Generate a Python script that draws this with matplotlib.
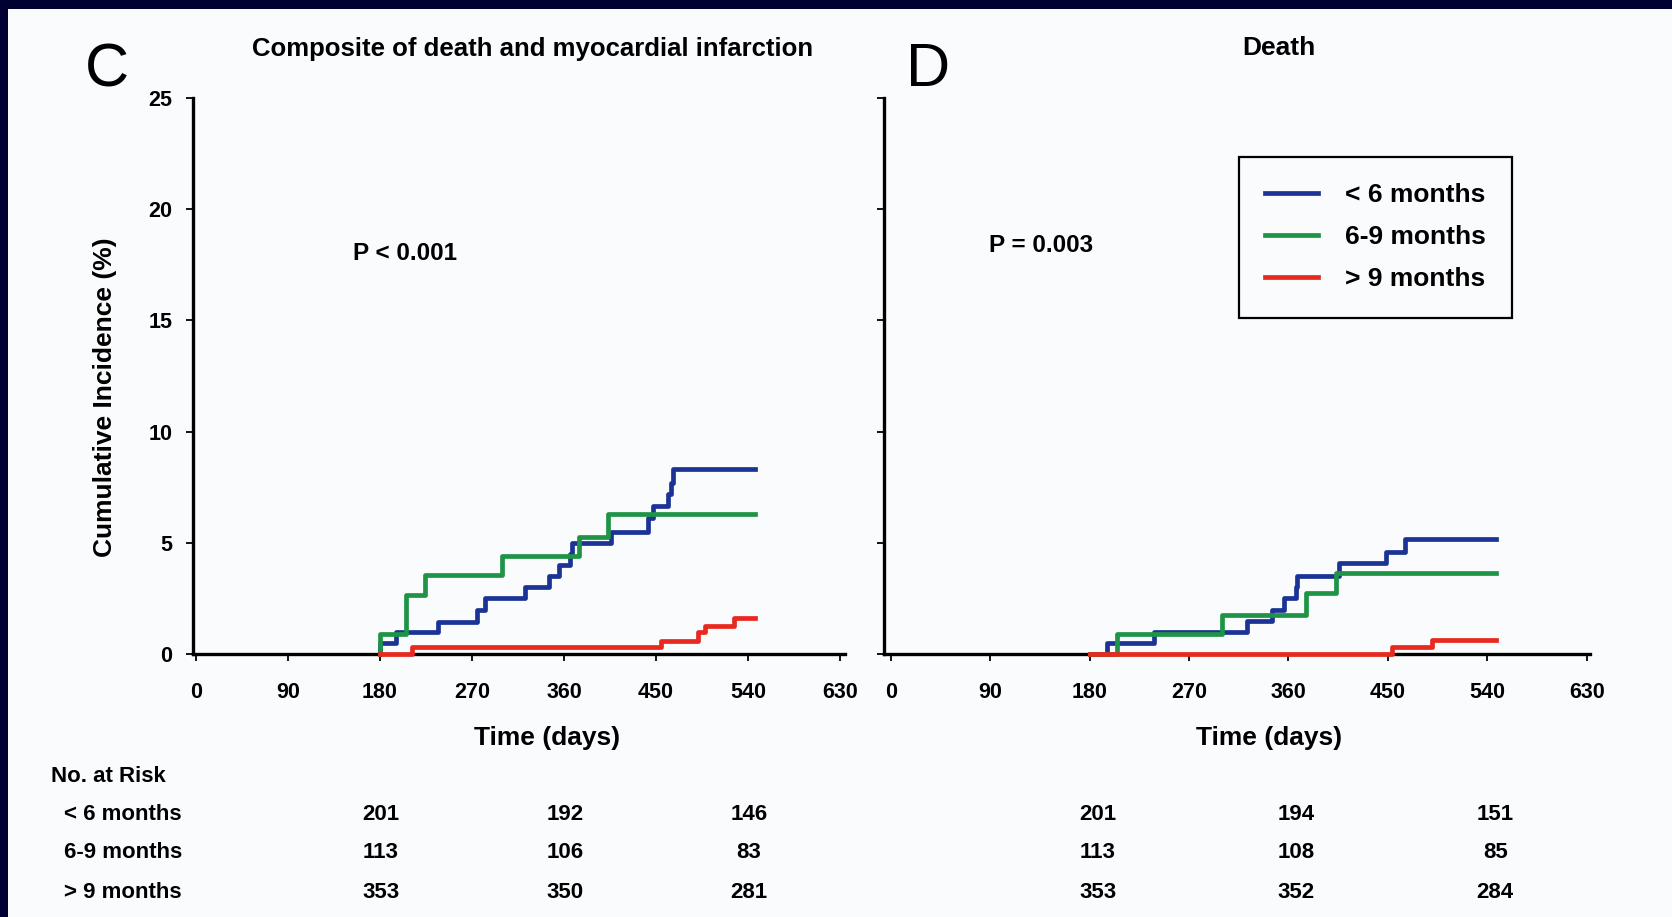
import matplotlib
matplotlib.use('Agg')
import matplotlib.pyplot as plt
import matplotlib.transforms as mtransforms
from matplotlib.patches import Rectangle

plt.rcParams['font.family'] = ['Liberation Sans', 'DejaVu Sans']

# group labels and colours
groups = ['< 6 months', '6-9 months', '> 9 months']
colors = ['#1c3396', '#1f9447', '#e8291f']

# panel C: composite of death and MI (days, cumulative %)
c_blue_t = [180, 180, 196, 237, 275, 283, 322, 345, 355, 366, 368, 406, 442, 447, 462, 465, 467, 547]
c_blue_y = [0, 0.5, 1.0, 1.45, 2.0, 2.5, 3.0, 3.5, 4.0, 4.5, 5.0, 5.5, 6.1, 6.65, 7.2, 7.7, 8.3, 8.3]
c_green_t = [180, 180, 205, 224, 299, 375, 403, 547]
c_green_y = [0, 0.9, 2.67, 3.57, 4.42, 5.27, 6.29, 6.29]
c_red_t = [180, 211, 455, 491, 498, 526, 547]
c_red_y = [0, 0.3, 0.6, 1.0, 1.25, 1.6, 1.6]

# panel D: death
d_blue_t = [180, 196, 238, 323, 345, 356, 367, 368, 406, 448, 466, 548]
d_blue_y = [0, 0.5, 1.0, 1.5, 2.0, 2.5, 3.0, 3.5, 4.1, 4.6, 5.15, 5.15]
d_green_t = [180, 205, 300, 376, 403, 548]
d_green_y = [0, 0.88, 1.75, 2.73, 3.66, 3.66]
d_red_t = [180, 454, 490, 548]
d_red_y = [0, 0.33, 0.63, 0.63]

xticks = [0, 90, 180, 270, 360, 450, 540, 630]
yticks = [0, 5, 10, 15, 20, 25]

# numbers at risk at 180 / 360 / 540 days
risk_days = [180, 360, 540]
c_risk = [[201, 192, 146], [113, 106, 83], [353, 350, 281]]
d_risk = [[201, 194, 151], [113, 108, 85], [353, 352, 284]]


fig = plt.figure(figsize=(16.72, 9.17), dpi=100, facecolor='#fafbfd')
# dark frame at top and left
navy = '#000033'
fig.add_artist(Rectangle((0, 1 - 9 / 917), 1, 9 / 917, transform=fig.transFigure,
                         facecolor=navy, edgecolor='none', zorder=-10))
fig.add_artist(Rectangle((0, 0), 8 / 1672, 1, transform=fig.transFigure,
                         facecolor=navy, edgecolor='none', zorder=-10))

axC = fig.add_axes([193 / 1672, 263 / 917, 652 / 1672, 556 / 917])
axD = fig.add_axes([884 / 1672, 263 / 917, 706 / 1672, 556 / 917])


def style_axis(ax, xmin, xmax, ylabels):
    ax.set_facecolor('none')
    ax.set_xlim(xmin, xmax)
    ax.set_ylim(0, 25)
    for s in ['top', 'right']:
        ax.spines[s].set_visible(False)
    for s in ['left', 'bottom']:
        ax.spines[s].set_linewidth(2.4)
    ax.set_xticks(xticks)
    ax.set_yticks(yticks)
    ax.tick_params(axis='both', direction='out', length=5, width=1.3, labelsize=15.5)
    ax.tick_params(axis='x', pad=15)
    ax.tick_params(axis='y', pad=10)
    for lab in ax.get_xticklabels() + ax.get_yticklabels():
        lab.set_fontweight('bold')
    if not ylabels:
        ax.set_yticklabels([])


def draw_curves(ax, series):
    for (t, y), col, name in zip(series, colors, groups):
        ax.step(t, y, where='post', color=col, lw=3.4, label=name, zorder=3, clip_on=False)


style_axis(axC, -3, 635, True)
style_axis(axD, -6, 633, False)

draw_curves(axC, [(c_blue_t, c_blue_y), (c_green_t, c_green_y), (c_red_t, c_red_y)])
draw_curves(axD, [(d_blue_t, d_blue_y), (d_green_t, d_green_y), (d_red_t, d_red_y)])

# titles and panel letters
fig.text(533 / 1672, 1 - 49 / 917, 'Composite of death and myocardial infarction', ha='center', va='center',
         fontsize=18.5, fontweight='bold')
fig.text(1279 / 1672, 1 - 48 / 917, 'Death', ha='center', va='center', fontsize=19, fontweight='bold')
fig.text(107 / 1672, 1 - 71 / 917, 'C', ha='center', va='center', fontsize=44)
fig.text(928 / 1672, 1 - 71 / 917, 'D', ha='center', va='center', fontsize=44)

fig.text(105 / 1672, 1 - 397 / 917, 'Cumulative Incidence (%)', rotation=90, ha='center', va='center',
         fontsize=19, fontweight='bold')
fig.text(547 / 1672, 1 - 738 / 917, 'Time (days)', ha='center', va='center', fontsize=19, fontweight='bold')
fig.text(1269 / 1672, 1 - 738 / 917, 'Time (days)', ha='center', va='center', fontsize=19, fontweight='bold')

fig.text(405 / 1672, 1 - 253 / 917, 'P < 0.001', ha='center', va='center', fontsize=17.5, fontweight='bold')
fig.text(1041 / 1672, 1 - 246 / 917, 'P = 0.003', ha='center', va='center', fontsize=17.5, fontweight='bold')

leg = axD.legend(loc='upper left', bbox_to_anchor=(1239 / 1672, 1 - 157 / 917), bbox_transform=fig.transFigure,
                 borderaxespad=0, fancybox=False, handlelength=2.0, handletextpad=1.0, labelspacing=0.68,
                 borderpad=1.0, prop={'size': 19, 'weight': 'bold'})
leg.get_frame().set_edgecolor('black')
leg.get_frame().set_linewidth(1.6)
leg.get_frame().set_facecolor('#fafbfd')
leg.get_frame().set_alpha(1)

# number at risk table
row_y = [1 - 815 / 917, 1 - 853 / 917, 1 - 893 / 917]
fig.text(51 / 1672, 1 - 776 / 917, 'No. at Risk', ha='left', va='center', fontsize=16, fontweight='bold')
for name, yy in zip(groups, row_y):
    fig.text(64 / 1672, yy, name, ha='left', va='center', fontsize=16, fontweight='bold')

for ax, risk, shift in [(axC, c_risk, 1), (axD, d_risk, 8)]:
    trans = mtransforms.blended_transform_factory(ax.transData, fig.transFigure)
    trans = trans + mtransforms.ScaledTranslation(shift / 100, 0, fig.dpi_scale_trans)
    for row, yy in zip(risk, row_y):
        for d, n in zip(risk_days, row):
            ax.text(d, yy, str(n), transform=trans, ha='center', va='center', fontsize=16, fontweight='bold',
                    clip_on=False)

fig.savefig('out.png', dpi=100, facecolor=fig.get_facecolor())
